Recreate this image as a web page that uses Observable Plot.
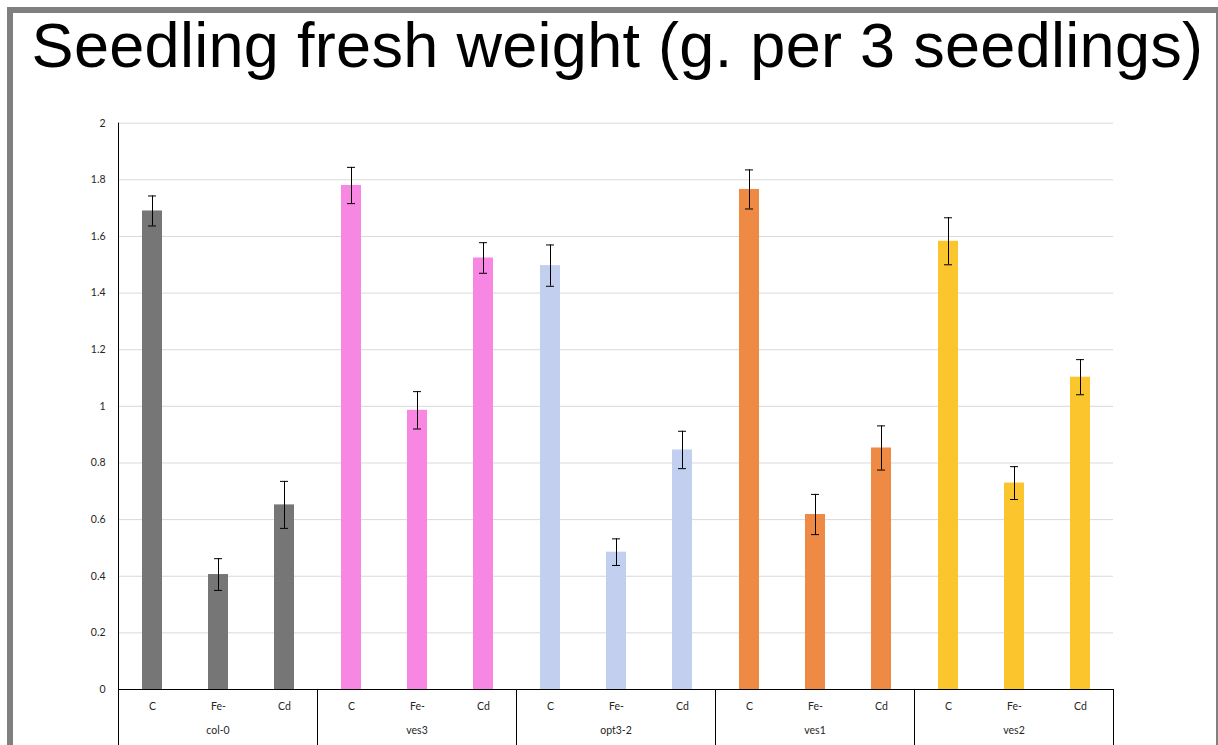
<!DOCTYPE html>
<html><head><meta charset="utf-8">
<script src="https://cdn.jsdelivr.net/npm/d3@7"></script>
<script src="https://cdn.jsdelivr.net/npm/@observablehq/plot@0.6"></script>
<style>
html,body{margin:0;padding:0;background:#fff;width:1218px;height:745px;overflow:hidden}
#frame{position:absolute;left:7px;top:7px;width:1203px;height:780px;border-left:6px solid #808080;border-top:6px solid #808080;border-right:2px solid #808080;}
#title{position:absolute;left:8.5px;top:13.7px;width:1218px;text-align:center;font:63px/63px "Liberation Sans",Arial,sans-serif;letter-spacing:0.3px;color:#000;white-space:nowrap;}
#chart{position:absolute;left:14px;top:100px;}
</style></head><body>
<div id="frame"></div>
<div id="title">Seedling fresh weight (g. per 3 seedlings)</div>
<div id="chart"></div>
<script>
const groups = ["col-0", "ves3", "opt3-2", "ves1", "ves2"];
const conditions = ["C", "Fe-", "Cd"];
const colors = ["#767676", "#f887e4", "#c3cfee", "#ef8a45", "#fbc52d"];
const yTicks = [0, 0.2, 0.4, 0.6, 0.8, 1, 1.2, 1.4, 1.6, 1.8, 2];
const means = [
  [1.690, 0.406, 0.652],
  [1.780, 0.986, 1.524],
  [1.497, 0.485, 0.846],
  [1.766, 0.618, 0.853],
  [1.583, 0.729, 1.103]
];
const errs = [
  [0.053, 0.056, 0.083],
  [0.064, 0.066, 0.054],
  [0.073, 0.047, 0.066],
  [0.069, 0.071, 0.078],
  [0.083, 0.058, 0.062]
];

const rows = [];
groups.forEach((g, i) => conditions.forEach((c, j) => rows.push({group: g, cond: c, mean: means[i][j], err: errs[i][j]})));

const W = 1200, H = 645, mTop = 22.7, mBottom = 56, mLeft = 104, mRight = 101;
const inner = H - mTop - mBottom;

const chart = Plot.plot({
  width: W, height: H,
  marginLeft: mLeft, marginRight: mRight, marginTop: mTop, marginBottom: mBottom,
  style: {background: "none", fontFamily: "Lato, 'Open Sans', sans-serif", fontSize: "10.5px", color: "#262626", overflow: "visible"},
  fx: {domain: groups, padding: 0, label: null},
  x: {domain: conditions, paddingInner: 0.7, paddingOuter: 0.35, label: null},
  y: {domain: [0, 2], label: null},
  color: {domain: groups, range: colors},
  marks: [
    Plot.gridY(yTicks.filter(d => d > 0), {stroke: "#d9d9d9", strokeOpacity: 1}),
    Plot.barY(rows, {fx: "group", x: "cond", y: "mean", fill: "group"}),
    Plot.ruleX(rows, {fx: "group", x: "cond", y1: d => d.mean - d.err, y2: d => d.mean + d.err, stroke: "#000", strokeWidth: 1}),
    Plot.tickY(rows, {fx: "group", x: "cond", y: d => d.mean + d.err, stroke: "#000", insetLeft: 6, insetRight: 6}),
    Plot.tickY(rows, {fx: "group", x: "cond", y: d => d.mean - d.err, stroke: "#000", insetLeft: 6, insetRight: 6}),
    Plot.ruleY([0], {stroke: "#000"}),
    Plot.axisY({ticks: yTicks, tickFormat: d => String(d), tickSize: 0, tickPadding: 13, label: null}),
    Plot.axisX({tickSize: 0, tickPadding: 13, label: null}),
    Plot.axisFx({anchor: "bottom", tickSize: 0, tickPadding: 37, label: null}),
    Plot.frame({anchor: "left", stroke: "#000", insetTop: inner, insetBottom: -mBottom}),
    Plot.frame({anchor: "right", facetAnchor: "right", stroke: "#000", insetTop: inner, insetBottom: -mBottom}),
    Plot.frame({anchor: "left", facetAnchor: "left", stroke: "#000", insetBottom: -mBottom})
  ]
});
document.getElementById("chart").appendChild(chart);
</script>
</body></html>
